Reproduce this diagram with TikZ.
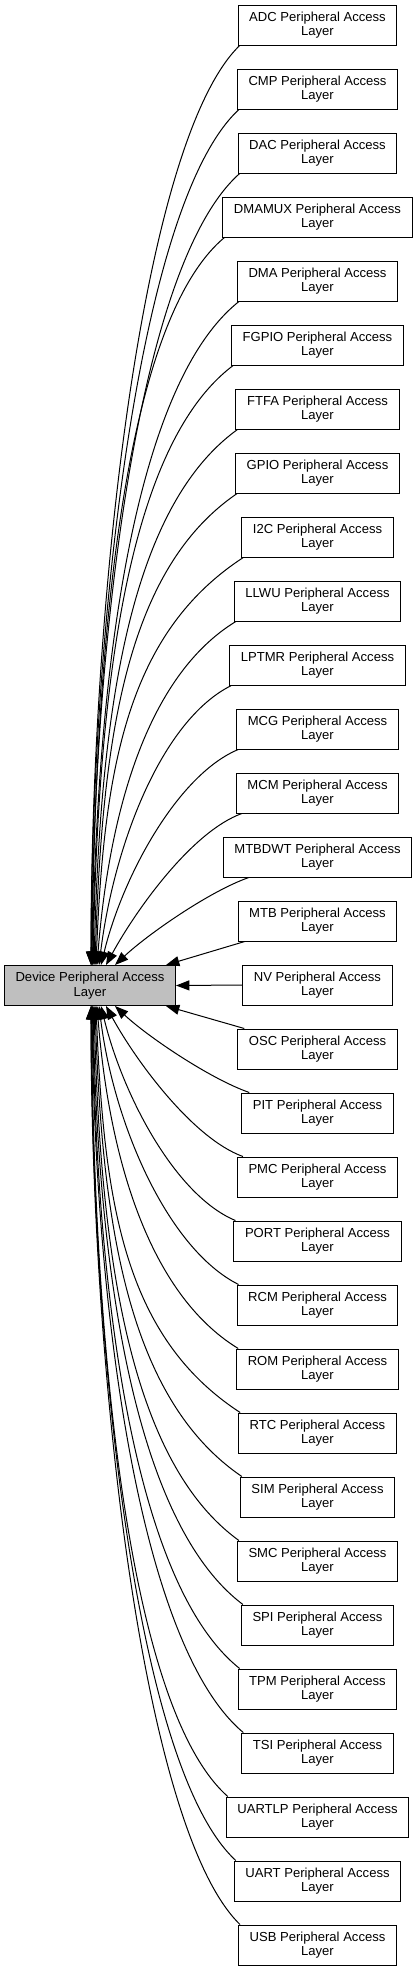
\documentclass[tikz,border=0pt]{standalone}
\usepackage{fontspec}
\setmainfont{Liberation Sans}
\usepackage{tikz}
\usepackage{xcolor}
\usetikzlibrary{arrows.meta, calc}
\definecolor{curgrey}{RGB}{191,191,191}

\begin{document}
\begin{tikzpicture}[
  x=0.75pt, y=-0.75pt,
  font=\fontsize{9.8}{11}\selectfont,
  grp/.style={rectangle, draw=black, line width=0.75pt, fill=white,
    inner xsep=8.3pt, inner ysep=2pt, minimum height=30pt, align=center},
  cur/.style={grp, fill=curgrey},
  dep/.style={-{Triangle[length=10pt, width=7.5pt]}, draw=black, line width=0.75pt}
]
\useasboundingbox (0,0) rectangle (417,1971);
% the group itself
\node[cur] (dev) at (90,985.5) {Device Peripheral Access\\Layer};
% member groups
\node[grp] (adc) at (317.5,25) {ADC Peripheral Access\\Layer};
\node[grp] (cmp) at (317.5,89) {CMP Peripheral Access\\Layer};
\node[grp] (dac) at (317.5,153) {DAC Peripheral Access\\Layer};
\node[grp] (dmamux) at (317.5,217) {DMAMUX Peripheral Access\\Layer};
\node[grp] (dma) at (317.5,281) {DMA Peripheral Access\\Layer};
\node[grp] (fgpio) at (317.5,345) {FGPIO Peripheral Access\\Layer};
\node[grp] (ftfa) at (317.5,409) {FTFA Peripheral Access\\Layer};
\node[grp] (gpio) at (317.5,473) {GPIO Peripheral Access\\Layer};
\node[grp] (i2c) at (317.5,537) {I2C Peripheral Access\\Layer};
\node[grp] (llwu) at (317.5,601) {LLWU Peripheral Access\\Layer};
\node[grp] (lptmr) at (317.5,665) {LPTMR Peripheral Access\\Layer};
\node[grp] (mcg) at (317.5,729) {MCG Peripheral Access\\Layer};
\node[grp] (mcm) at (317.5,793) {MCM Peripheral Access\\Layer};
\node[grp] (mtbdwt) at (317.5,857) {MTBDWT Peripheral Access\\Layer};
\node[grp] (mtb) at (317.5,921) {MTB Peripheral Access\\Layer};
\node[grp] (nv) at (317.5,985) {NV Peripheral Access\\Layer};
\node[grp] (osc) at (317.5,1049) {OSC Peripheral Access\\Layer};
\node[grp] (pit) at (317.5,1113) {PIT Peripheral Access\\Layer};
\node[grp] (pmc) at (317.5,1177) {PMC Peripheral Access\\Layer};
\node[grp] (port) at (317.5,1241) {PORT Peripheral Access\\Layer};
\node[grp] (rcm) at (317.5,1305) {RCM Peripheral Access\\Layer};
\node[grp] (rom) at (317.5,1369) {ROM Peripheral Access\\Layer};
\node[grp] (rtc) at (317.5,1433) {RTC Peripheral Access\\Layer};
\node[grp] (sim) at (317.5,1497) {SIM Peripheral Access\\Layer};
\node[grp] (smc) at (317.5,1561) {SMC Peripheral Access\\Layer};
\node[grp] (spi) at (317.5,1625) {SPI Peripheral Access\\Layer};
\node[grp] (tpm) at (317.5,1689) {TPM Peripheral Access\\Layer};
\node[grp] (tsi) at (317.5,1753) {TSI Peripheral Access\\Layer};
\node[grp] (uartlp) at (317.5,1817) {UARTLP Peripheral Access\\Layer};
\node[grp] (uart) at (317.5,1881) {UART Peripheral Access\\Layer};
\node[grp] (usb) at (317.5,1945) {USB Peripheral Access\\Layer};
% edges from the upper half
\draw[dep] ($(adc.south west)+(2,0)$) .. controls +(-98,95) and +(0,-366) .. ($(dev.north west)+(87,0)$);
\draw[dep] ($(cmp.south west)+(2,0)$) .. controls +(-100,92) and +(1,-345) .. ($(dev.north west)+(87,0)$);
\draw[dep] ($(dac.south west)+(2,0)$) .. controls +(-102,90) and +(2,-325) .. ($(dev.north west)+(87.5,0)$);
\draw[dep] ($(dmamux.south west)+(2,0)$) .. controls +(-104,87) and +(3,-304) .. ($(dev.north west)+(88,0)$);
\draw[dep] ($(dma.south west)+(2,0)$) .. controls +(-107,85) and +(4,-283) .. ($(dev.north west)+(88.5,0)$);
\draw[dep] ($(fgpio.south west)+(2,0)$) .. controls +(-109,82) and +(5,-262) .. ($(dev.north west)+(89,0)$);
\draw[dep] ($(ftfa.south west)+(2,0)$) .. controls +(-111,80) and +(6,-242) .. ($(dev.north west)+(90,0)$);
\draw[dep] ($(gpio.south west)+(2,0)$) .. controls +(-113,77) and +(7,-221) .. ($(dev.north west)+(91,0)$);
\draw[dep] ($(i2c.south west)+(2,0)$) .. controls +(-115,75) and +(8,-200) .. ($(dev.north west)+(92,0)$);
\draw[dep] ($(llwu.south west)+(2,0)$) .. controls +(-90,55) and +(12,-150) .. ($(dev.north west)+(93,0)$);
\draw[dep] ($(lptmr.south west)+(2,0)$) .. controls +(-70,35) and +(15,-120) .. ($(dev.north west)+(95,0)$);
\draw[dep] ($(mcg.south west)+(2,0)$) .. controls +(-60,25) and +(22,-90) .. ($(dev.north west)+(97,0)$);
\draw[dep] ($(mcm.south west)+(6,0)$) .. controls +(-50,18) and +(30,-55) .. ($(dev.north west)+(102,0)$);
\draw[dep] ($(mtbdwt.south west)+(26,0)$) .. controls +(-40,14) and +(32,-30) .. ($(dev.north west)+(111,0)$);
\draw[dep] ($(mtb.south west)+(7,0)$) -- ($(dev.north east)+(-10,0)$);
\draw[dep] (nv.west) -- (dev.east);
% edges from the lower half
\draw[dep] ($(osc.north west)+(7,0)$) -- ($(dev.south east)+(-10,0)$);
\draw[dep] ($(pit.north west)+(8,0)$) .. controls +(-40,-14) and +(32,30) .. ($(dev.south west)+(111,0)$);
\draw[dep] ($(pmc.north west)+(6,0)$) .. controls +(-50,-18) and +(30,55) .. ($(dev.south west)+(102,0)$);
\draw[dep] ($(port.north west)+(2,0)$) .. controls +(-60,-25) and +(22,90) .. ($(dev.south west)+(97,0)$);
\draw[dep] ($(rcm.north west)+(2,0)$) .. controls +(-70,-35) and +(15,120) .. ($(dev.south west)+(95,0)$);
\draw[dep] ($(rom.north west)+(2,0)$) .. controls +(-90,-55) and +(12,150) .. ($(dev.south west)+(93,0)$);
\draw[dep] ($(rtc.north west)+(2,0)$) .. controls +(-115,-75) and +(8,200) .. ($(dev.south west)+(92,0)$);
\draw[dep] ($(sim.north west)+(2,0)$) .. controls +(-113,-77) and +(7,221) .. ($(dev.south west)+(91,0)$);
\draw[dep] ($(smc.north west)+(2,0)$) .. controls +(-111,-80) and +(6,242) .. ($(dev.south west)+(90,0)$);
\draw[dep] ($(spi.north west)+(2,0)$) .. controls +(-109,-82) and +(5,262) .. ($(dev.south west)+(89,0)$);
\draw[dep] ($(tpm.north west)+(2,0)$) .. controls +(-107,-85) and +(4,283) .. ($(dev.south west)+(88.5,0)$);
\draw[dep] ($(tsi.north west)+(2,0)$) .. controls +(-104,-87) and +(3,304) .. ($(dev.south west)+(88,0)$);
\draw[dep] ($(uartlp.north west)+(2,0)$) .. controls +(-102,-90) and +(2,325) .. ($(dev.south west)+(87.5,0)$);
\draw[dep] ($(uart.north west)+(2,0)$) .. controls +(-100,-92) and +(1,345) .. ($(dev.south west)+(87,0)$);
\draw[dep] ($(usb.north west)+(2,0)$) .. controls +(-98,-95) and +(0,366) .. ($(dev.south west)+(87,0)$);
\end{tikzpicture}
\end{document}
